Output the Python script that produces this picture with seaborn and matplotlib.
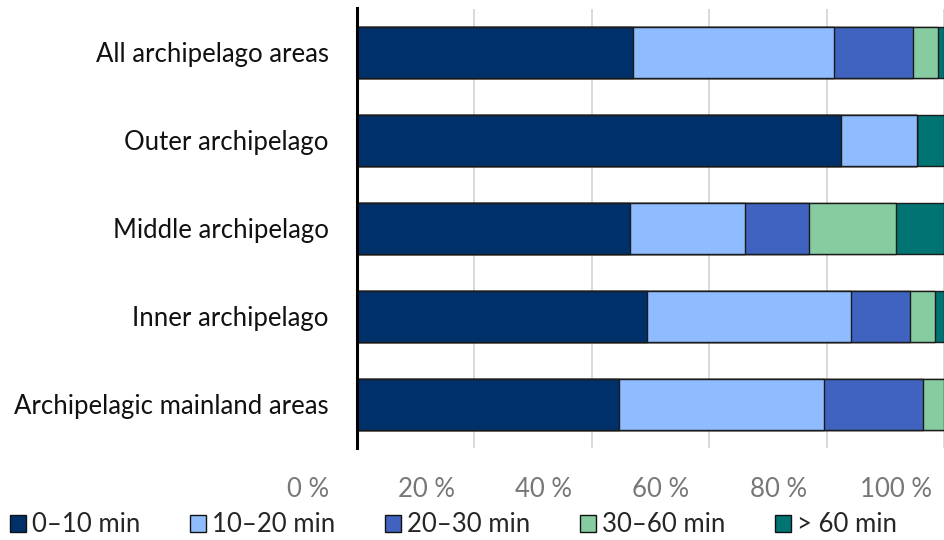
import numpy as np
import pandas as pd
import matplotlib
matplotlib.use("Agg")
import matplotlib.pyplot as plt
import matplotlib.transforms as mtransforms
from matplotlib.patches import Patch
import seaborn as sns

# Share of trips by travel time, per area type (percent)
categories = [
    "All archipelago areas",
    "Outer archipelago",
    "Middle archipelago",
    "Inner archipelago",
    "Archipelagic mainland areas",
]
series_names = ["0–10 min", "10–20 min", "20–30 min", "30–60 min", "> 60 min"]
t_0_10 = [47.0, 82.5, 46.6, 49.4, 44.6]
t_10_20 = [34.2, 12.9, 19.5, 34.8, 35.0]
t_20_30 = [13.5, 0.0, 11.0, 10.0, 16.8]
t_30_60 = [4.2, 0.0, 14.7, 4.2, 3.6]
t_60_plus = [1.1, 4.6, 8.2, 1.6, 0.0]
colors = ["#003069", "#8fbcff", "#4063c0", "#87cba0", "#007472"]
tick_values = [0, 20, 40, 60, 80, 100]
tick_labels = ["0 %", "20 %", "40 %", "60 %", "80 %", "100 %"]

sns.set_style("white")
family, fsize = "Lato", 18.5
plt.rcParams["font.family"] = [family, "DejaVu Sans"]

df = pd.DataFrame({"area": categories})
for name, vals in zip(series_names, [t_0_10, t_10_20, t_20_30, t_30_60, t_60_plus]):
    df[name] = vals
cum = df[series_names].cumsum(axis=1)

W, H = 944, 540
fig = plt.figure(figsize=(W / 100, H / 100), dpi=100)
ax = fig.add_axes([356.5 / W, (540 - 448) / H, (W - 356.5) / W, (448 - 8.5) / H])

# stacked bars: draw cumulative totals from the longest down so each segment shows
for name, col in reversed(list(zip(series_names, colors))):
    sns.barplot(
        x=cum[name], y=df["area"], orient="h", color=col, width=0.58,
        edgecolor="#1a1a1a", linewidth=1.0, ax=ax, saturation=1,
    )

ax.set_xlim(0, (W - 356.5) / 5.91)
ax.set_ylim(4.5, -0.5)
ax.set_xlabel("")
ax.set_ylabel("")
ax.set_xticks(tick_values)
ax.set_xticklabels(tick_labels, fontsize=fsize, color="#777777")
ax.tick_params(axis="x", length=0, pad=21)
ax.tick_params(axis="y", length=0, pad=20, labelsize=fsize, labelcolor="#111111")
shift = mtransforms.ScaledTranslation(-48 / 100, 0, fig.dpi_scale_trans)
for lab in ax.get_xticklabels():
    lab.set_transform(lab.get_transform() + shift)

ax.set_axisbelow(True)
ax.grid(axis="x", color="#d9d9d9", linewidth=1.4)
ax.grid(axis="y", visible=False)
for s in ["top", "right", "bottom"]:
    ax.spines[s].set_visible(False)
ax.spines["left"].set_color("black")
ax.spines["left"].set_linewidth(2.2)

handles = [Patch(facecolor=c, edgecolor="#111111", linewidth=1.0) for c in colors]
fig.legend(
    handles, series_names, loc="center left", bbox_to_anchor=(10 / W, 1 - 525 / H),
    ncol=5, frameon=False, fontsize=fsize, handlelength=0.62, handleheight=0.62,
    handletextpad=0.25, columnspacing=1.92, borderpad=0, borderaxespad=0,
)

fig.savefig("out.png", dpi=100)
